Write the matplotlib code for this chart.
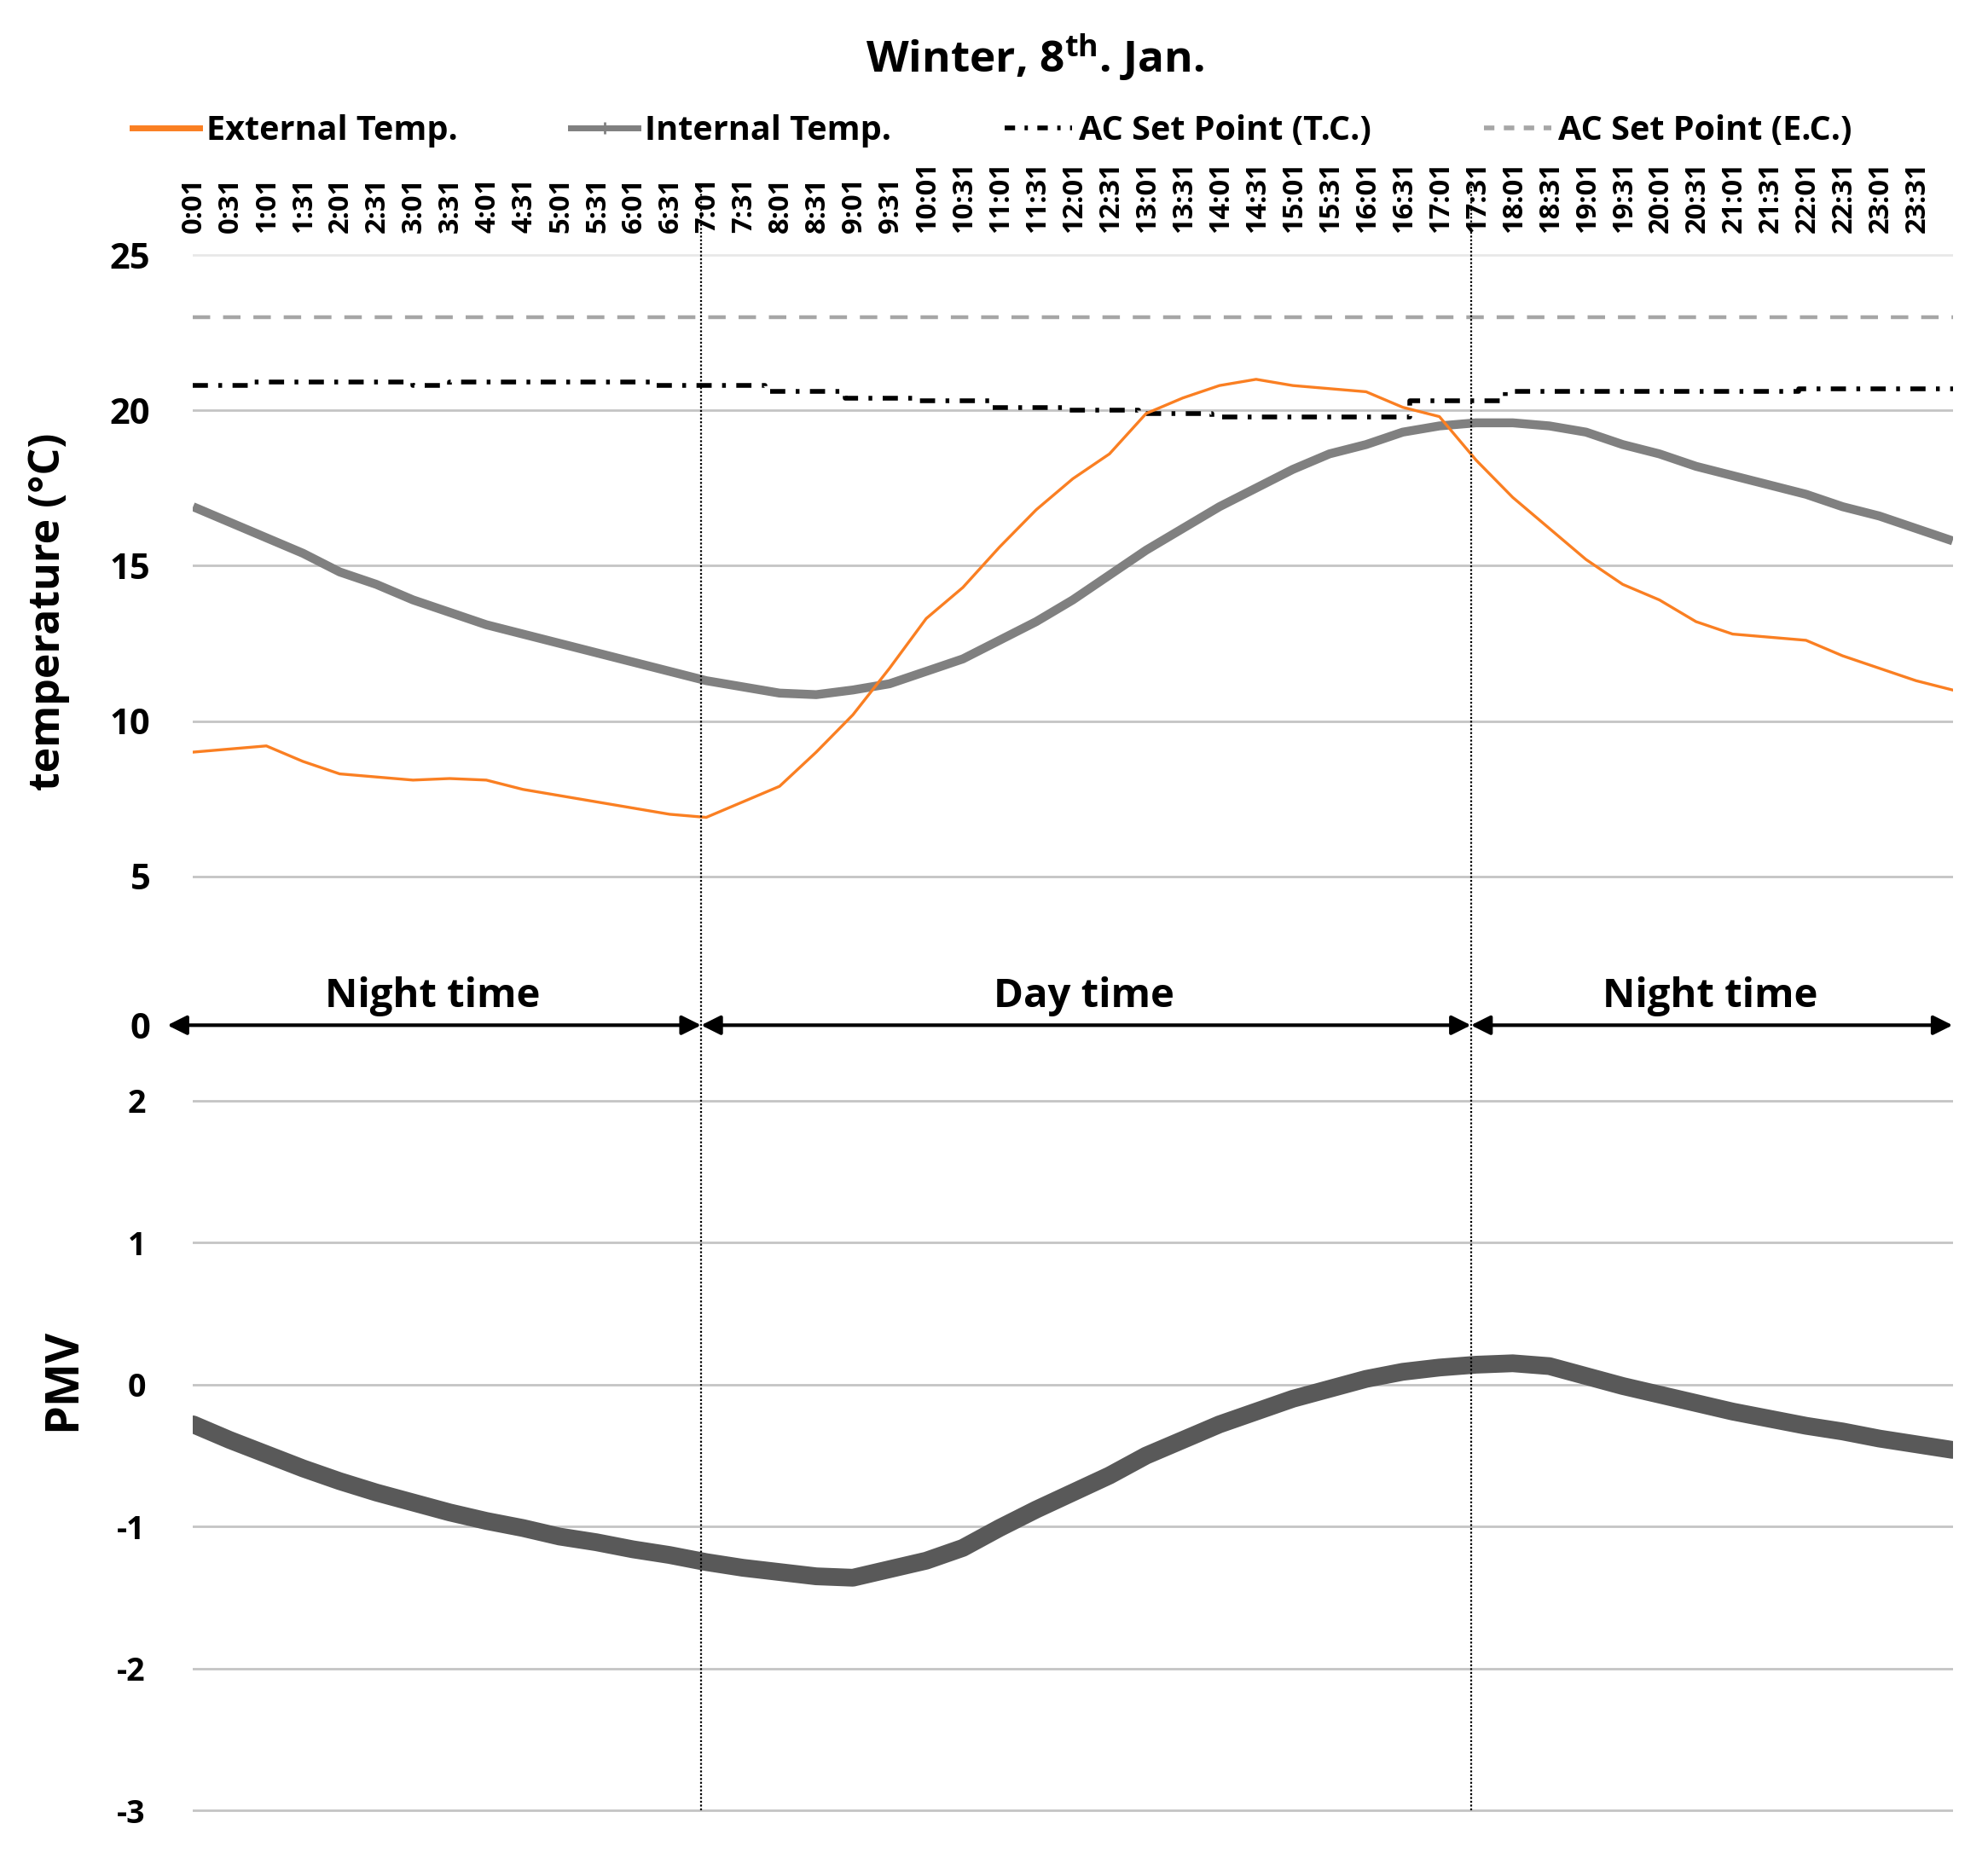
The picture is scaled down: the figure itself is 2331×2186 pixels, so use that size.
import matplotlib
matplotlib.use('Agg')
import matplotlib.pyplot as plt
from matplotlib import font_manager
from matplotlib.lines import Line2D
from matplotlib.transforms import blended_transform_factory

# pick a family that really has a bold face installed
chosen = 'DejaVu Sans'
for fam in ['Open Sans', 'Noto Sans', 'Lato', 'Roboto', 'Liberation Sans']:
    try:
        f = font_manager.findfont(font_manager.FontProperties(family=fam, weight='bold'),
                                  fallback_to_default=False)
        if 'bold' in f.lower() or 'Bold' in font_manager.get_font(f).style_name:
            chosen = fam
            break
    except Exception:
        continue

plt.rcParams['font.family'] = [chosen, 'DejaVu Sans']
plt.rcParams['font.weight'] = 'bold'
plt.rcParams['mathtext.fontset'] = 'custom'
plt.rcParams['mathtext.rm'] = chosen + ':bold'
plt.rcParams['mathtext.it'] = chosen + ':bold'
plt.rcParams['mathtext.bf'] = chosen + ':bold'

# ---------------- data ----------------
sample_hours = [0, 0.5, 1, 1.5, 2, 2.5, 3, 3.5, 4, 4.5, 5, 5.5, 6, 6.5, 7, 7.5,
                8, 8.5, 9, 9.5, 10, 10.5, 11, 11.5, 12, 12.5, 13, 13.5, 14, 14.5,
                15, 15.5, 16, 16.5, 17, 17.5, 18, 18.5, 19, 19.5, 20, 20.5, 21,
                21.5, 22, 22.5, 23, 23.5, 24]

external_temp = [9.0, 9.1, 9.2, 8.7, 8.3, 8.2, 8.1, 8.15, 8.1, 7.8, 7.6, 7.4, 7.2,
                 7.0, 6.9, 7.4, 7.9, 9.0, 10.2, 11.7, 13.3, 14.3, 15.6, 16.8, 17.8,
                 18.6, 19.9, 20.4, 20.8, 21.0, 20.8, 20.7, 20.6, 20.1, 19.8, 18.4,
                 17.2, 16.2, 15.2, 14.4, 13.9, 13.2, 12.8, 12.7, 12.6, 12.1, 11.7,
                 11.3, 11.0]

internal_temp = [16.9, 16.4, 15.9, 15.4, 14.8, 14.4, 13.9, 13.5, 13.1, 12.8, 12.5,
                 12.2, 11.9, 11.6, 11.3, 11.1, 10.9, 10.85, 11.0, 11.2, 11.6, 12.0,
                 12.6, 13.2, 13.9, 14.7, 15.5, 16.2, 16.9, 17.5, 18.1, 18.6, 18.9,
                 19.3, 19.5, 19.6, 19.6, 19.5, 19.3, 18.9, 18.6, 18.2, 17.9, 17.6,
                 17.3, 16.9, 16.6, 16.2, 15.8]

pmv = [-0.28, -0.39, -0.49, -0.59, -0.68, -0.76, -0.83, -0.90, -0.96, -1.01, -1.07,
       -1.11, -1.16, -1.20, -1.25, -1.29, -1.32, -1.35, -1.36, -1.30, -1.24, -1.15,
       -1.01, -0.88, -0.76, -0.64, -0.50, -0.39, -0.28, -0.19, -0.10, -0.03, 0.04,
       0.09, 0.12, 0.14, 0.15, 0.13, 0.06, -0.01, -0.07, -0.13, -0.19, -0.24, -0.29,
       -0.33, -0.38, -0.42, -0.46]

tc_step_hours = [0, 0.75, 3.0, 3.5, 6.25, 7.8, 8.9, 9.9, 10.9, 11.9, 12.9, 13.9,
                 16.6, 17.9, 21.9, 24]
tc_setpoint = [20.8, 20.9, 20.8, 20.9, 20.8, 20.6, 20.4, 20.3, 20.1, 20.0, 19.9,
               19.8, 20.3, 20.6, 20.7, 20.7]

ec_hours = [0, 24]
ec_setpoint = [23.0, 23.0]

time_labels = ['0:01', '0:31', '1:01', '1:31', '2:01', '2:31', '3:01', '3:31',
               '4:01', '4:31', '5:01', '5:31', '6:01', '6:31', '7:01', '7:31',
               '8:01', '8:31', '9:01', '9:31', '10:01', '10:31', '11:01', '11:31',
               '12:01', '12:31', '13:01', '13:31', '14:01', '14:31', '15:01', '15:31',
               '16:01', '16:31', '17:01', '17:31', '18:01', '18:31', '19:01', '19:31',
               '20:01', '20:31', '21:01', '21:31', '22:01', '22:31', '23:01', '23:31']

temp_ticks = [5, 10, 15, 20, 25]
pmv_ticks = [-3, -2, -1, 0, 1, 2]

period_bounds = [-0.35, 6.93, 17.43, 24.0]
period_names = ['Night time', 'Day time', 'Night time']

# ---------------- helpers ----------------
def to_min(h):
    return [v * 60 for v in h]

tick_pos = [int(s.split(':')[0]) * 60 + int(s.split(':')[1]) for s in time_labels]

C_EXT = '#FA7F22'
C_INT = '#808080'
C_EC = '#A6A6A6'
C_PMV = '#595959'
C_GRID = '#C4C4C4'

fig = plt.figure(figsize=(23.31, 21.86), dpi=100)
L, W = 0.0971, 0.8851
ax_t = fig.add_axes([L, 0.5215, W, 0.8715 - 0.5215])
ax_a = fig.add_axes([L, 0.43, W, 0.04])
ax_p = fig.add_axes([L, 0.0210, W, 0.4172 - 0.0210])

for ax in (ax_t, ax_a, ax_p):
    ax.set_xlim(0, 1440)
    for s in ax.spines.values():
        s.set_visible(False)
    ax.set_facecolor('none')

# ---- top: temperature ----
ax_t.set_ylim(4.5, 25.5)
for v in temp_ticks:
    ax_t.axhline(v, color=('#E8E8E8' if v == 25 else C_GRID), lw=2.0, zorder=0)
ax_t.plot(to_min(ec_hours), ec_setpoint, color=C_EC, lw=3.2,
          dashes=(4.6, 3.4), zorder=2)
ax_t.plot(to_min(tc_step_hours), tc_setpoint, color='black', lw=4.0,
          drawstyle='steps-post', dashes=(3.2, 2.2, 0.8, 2.2), zorder=3)
ax_t.plot(to_min(sample_hours), internal_temp, color=C_INT, lw=7.5,
          solid_capstyle='butt', zorder=4)
ax_t.plot(to_min(sample_hours), external_temp, color=C_EXT, lw=2.4, zorder=5)

ax_t.set_yticks(temp_ticks)
ax_t.set_yticklabels([str(v) for v in temp_ticks], fontsize=30, fontweight='bold')
ax_t.tick_params(axis='y', length=0, pad=36)
ax_t.xaxis.tick_top()
ax_t.set_xticks(tick_pos)
ax_t.set_xticklabels(time_labels, rotation=90, fontsize=23.5, fontweight='bold')
ax_t.tick_params(axis='x', length=0, pad=6)

# ---- middle: period arrows ----
ax_a.set_ylim(-1, 1)
ax_a.set_xticks([])
ax_a.set_yticks([0])
ax_a.set_yticklabels(['0'], fontsize=30, fontweight='bold')
ax_a.tick_params(axis='y', length=0, pad=36)
label_shift = [-12, -2, -1]
for i, name in enumerate(period_names):
    x0 = period_bounds[i] * 60
    x1 = period_bounds[i + 1] * 60
    ax_a.annotate('', xy=(x1, 0), xytext=(x0, 0), annotation_clip=False,
                  arrowprops=dict(arrowstyle='<|-|>', color='black', lw=3,
                                  mutation_scale=34, shrinkA=0, shrinkB=0))
    ax_a.text((max(x0, 0) + x1) / 2 + label_shift[i], 0.78, name, ha='center',
              va='center', fontsize=34, fontweight='bold')

# ---- bottom: PMV ----
ax_p.set_ylim(-3.1, 2.1)
for v in pmv_ticks:
    ax_p.axhline(v, color=C_GRID, lw=2.0, zorder=0)
ax_p.plot(to_min(sample_hours), pmv, color=C_PMV, lw=15, solid_capstyle='round',
          zorder=3)
ax_p.set_yticks(pmv_ticks)
ax_p.set_yticklabels([str(v) for v in pmv_ticks], fontsize=27, fontweight='bold')
ax_p.tick_params(axis='y', length=0, pad=40)
ax_p.set_xticks([])

# ---- vertical dotted separators ----
trans = blended_transform_factory(ax_p.transData, fig.transFigure)
for b in period_bounds[1:3]:
    ln = Line2D([b * 60, b * 60], [0.0288, 0.9007], transform=trans, color='black',
                lw=1.6, dashes=(1, 1), zorder=10)
    fig.add_artist(ln)

# ---- labels ----
fig.text(0.5205, 0.9693, r'Winter, 8$^{\mathrm{th}}$. Jan.', ha='center', va='center',
         fontsize=37, fontweight='bold')
fig.text(0.0245, 0.672, 'temperature (°C)', rotation=90, ha='center', va='center',
         fontsize=36, fontweight='bold')
fig.text(0.032, 0.260, 'PMV', rotation=90, ha='center', va='center',
         fontsize=39, fontweight='bold')

handles = [
    Line2D([], [], color=C_EXT, lw=5),
    Line2D([], [], color=C_INT, lw=5, marker='|', markersize=10, markeredgewidth=2),
    Line2D([], [], color='black', lw=4, dashes=(2.2, 2.0, 0.7, 2.0)),
    Line2D([], [], color=C_EC, lw=4, dashes=(2.2, 2.0)),
]
labels = ['External Temp.', 'Internal Temp.', 'AC Set Point (T.C.)', 'AC Set Point (E.C.)']
fig.legend(handles, labels, loc='center', bbox_to_anchor=(0.4990, 0.930), ncol=4,
           frameon=False, handlelength=2.0, handletextpad=0.2,
           columnspacing=3.35, prop={'weight': 'bold', 'size': 28.5})

fig.savefig('out.png', dpi=100, facecolor='white')
